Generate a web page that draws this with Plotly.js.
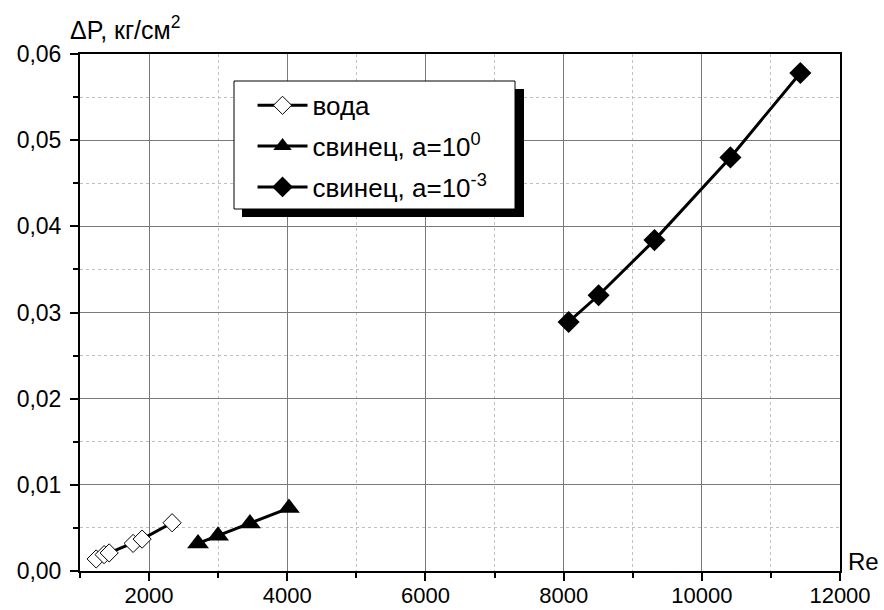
<!DOCTYPE html>
<html>
<head>
<meta charset="utf-8">
<script src="https://cdn.plot.ly/plotly-3.0.1.min.js"></script>
<style>html,body{margin:0;padding:0;background:#fff;}#chart{width:884px;height:610px;}</style>
</head>
<body>
<div id="chart"></div>
<script>
// Data
const waterRe = [1234, 1349, 1422, 1769, 1899, 2333];
const waterDP = [0.0014, 0.0019, 0.0021, 0.0032, 0.0037, 0.0056];

const lead0Re = [2708, 2998, 3460, 4024];
const lead0DP = [0.0032, 0.0041, 0.0055, 0.0073];

const lead3Re = [8072, 8506, 9315, 10414, 11426];
const lead3DP = [0.0289, 0.0320, 0.0384, 0.0480, 0.0578];

const seriesNames = ['вода', 'свинец, a=10<sup>0</sup>', 'свинец, a=10<sup>-3</sup>'];
const xTitle = 'Re';
const yTitle = '\u0394P, кг/см<sup>2</sup>';

const FONT = 'Liberation Sans, Arial, sans-serif';
const lineStyle = {color: '#000', width: 3};

const traces = [
  {x: waterRe, y: waterDP, name: seriesNames[0], legendgroup: 'g1', mode: 'lines+markers', type: 'scatter',
   line: lineStyle, marker: {symbol: 'diamond', size: 14, color: '#fff', line: {color: '#000', width: 1}}},
  {x: lead0Re, y: lead0DP, name: seriesNames[1], legendgroup: 'g2', mode: 'lines+markers', type: 'scatter',
   line: lineStyle, marker: {symbol: 'triangle-up', size: 19, color: '#000'}},
  {x: lead3Re, y: lead3DP, name: seriesNames[2], legendgroup: 'g3', mode: 'lines+markers', type: 'scatter',
   line: lineStyle, marker: {symbol: 'diamond', size: 17, color: '#000'}}
];

const axisCommon = {
  showline: true, linecolor: '#000', linewidth: 2, mirror: true,
  ticks: 'outside', ticklen: 8, tickwidth: 2, tickcolor: '#000',
  showgrid: true, gridcolor: '#7a7a7a', gridwidth: 1,
  zeroline: false,
  tickfont: {family: FONT, size: 23, color: '#000'}
};

const layout = {
  width: 884, height: 610,
  margin: {l: 80, r: 44, t: 54, b: 39, pad: 0},
  paper_bgcolor: '#fff', plot_bgcolor: '#fff',
  separators: ', ',
  showlegend: true,
  font: {family: FONT, size: 23, color: '#000'},
  xaxis: Object.assign({}, axisCommon, {
    range: [1000, 12000], dtick: 2000, tick0: 0, tickformat: 'd', ticklabelstandoff: -4,
    tickfont: {family: FONT, size: 22, color: '#000'},
    minor: {dtick: 1000, showgrid: true, gridcolor: '#c0c0c0', griddash: 'dot', gridwidth: 1,
            ticks: 'outside', ticklen: 5, tickwidth: 2, tickcolor: '#000'}
  }),
  yaxis: Object.assign({}, axisCommon, {
    range: [0, 0.06], dtick: 0.01, tick0: 0, tickformat: '.2f', ticklabelstandoff: 4,
    minor: {dtick: 0.005, showgrid: true, gridcolor: '#c0c0c0', griddash: 'dot', gridwidth: 1,
            ticks: 'outside', ticklen: 5, tickwidth: 2, tickcolor: '#000'}
  }),
  legend: {
    x: 0.227, y: 0.946, xanchor: 'left', yanchor: 'top',
    bgcolor: 'rgba(0,0,0,0)', borderwidth: 0,
    font: {family: FONT, size: 26, color: '#000'},
    tracegroupgap: 4, itemwidth: 50
  },
  shapes: [
    {type: 'rect', xref: 'paper', yref: 'paper', layer: 'above',
     x0: (242 - 80) / 760, x1: (524 - 80) / 760, y0: (571 - 217) / 517, y1: (571 - 89) / 517,
     fillcolor: '#000', line: {width: 0}},
    {type: 'rect', xref: 'paper', yref: 'paper', layer: 'above',
     x0: (234 - 80) / 760, x1: (515 - 80) / 760, y0: (571 - 209) / 517, y1: (571 - 81) / 517,
     fillcolor: '#fff', line: {color: '#000', width: 1}}
  ],
  annotations: [
    {text: yTitle, xref: 'paper', yref: 'paper', x: (68 - 80) / 760, y: (571 - 46) / 517,
     xanchor: 'left', yanchor: 'bottom', showarrow: false, font: {family: FONT, size: 25, color: '#000'}},
    {text: xTitle, xref: 'paper', yref: 'paper', x: (846 - 80) / 760, y: (571 - 561) / 517,
     xanchor: 'left', yanchor: 'middle', showarrow: false, font: {family: FONT, size: 24, color: '#000'}}
  ]
};

Plotly.newPlot('chart', traces, layout, {displayModeBar: false, staticPlot: true});
</script>
</body>
</html>
